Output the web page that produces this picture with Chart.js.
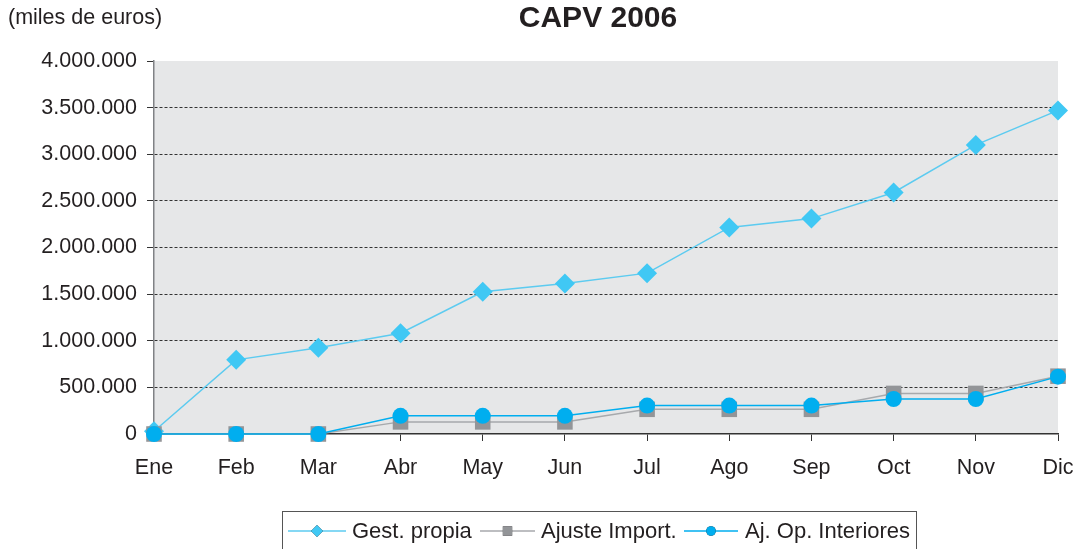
<!DOCTYPE html>
<html>
<head>
<meta charset="utf-8">
<script src="https://cdn.jsdelivr.net/npm/chart.js@4.4.1/dist/chart.umd.min.js"></script>
<style>
  html, body { margin: 0; padding: 0; background: #ffffff; }
  #wrap { width: 1078px; height: 549px; position: relative; }
</style>
</head>
<body>
<div id="wrap"><canvas id="chart" width="1078" height="549"></canvas></div>
<script>
// ----- Data (miles de euros) -----
const months = ['Ene', 'Feb', 'Mar', 'Abr', 'May', 'Jun', 'Jul', 'Ago', 'Sep', 'Oct', 'Nov', 'Dic'];
const gestPropia = [30000, 795000, 925000, 1080000, 1525000, 1615000, 1725000, 2215000, 2310000, 2590000, 3100000, 3470000];
const ajusteImport = [0, 0, 0, 130000, 130000, 130000, 265000, 265000, 265000, 435000, 435000, 620000];
const ajOpInteriores = [0, 0, 0, 195000, 195000, 195000, 305000, 305000, 305000, 375000, 375000, 615000];
const yTicks = [0, 500000, 1000000, 1500000, 2000000, 2500000, 3000000, 3500000, 4000000];

const FONT = "'Liberation Sans', Arial, sans-serif";
const TEXT = '#231f20';

function fmt(v) {
    return String(v).replace(/\B(?=(\d{3})+(?!\d))/g, '.');
}

// grey plot background
const plotBg = {
    id: 'plotBg',
    beforeDraw(chart) {
        const a = chart.chartArea, ctx = chart.ctx;
        ctx.save();
        ctx.fillStyle = '#e6e7e8';
        ctx.fillRect(a.left, a.top, a.right - a.left, a.bottom - a.top);
        ctx.restore();
    }
};

// title, unit note and boxed legend
const texts = {
    id: 'texts',
    afterDraw(chart) {
        const ctx = chart.ctx;
        ctx.save();
        ctx.fillStyle = TEXT;
        ctx.textBaseline = 'middle';
        ctx.font = 'bold 30px ' + FONT;
        ctx.textAlign = 'center';
        ctx.fillText('CAPV 2006', 598, 19);
        ctx.font = '21.5px ' + FONT;
        ctx.textAlign = 'left';
        ctx.fillText('(miles de euros)', 8, 18);

        // legend box
        ctx.strokeStyle = '#555';
        ctx.lineWidth = 1;
        ctx.strokeRect(282.5, 511.5, 634, 50);

        const items = [
            { ds: chart.data.datasets[0], x1: 288, x2: 346, text: 352 },
            { ds: chart.data.datasets[1], x1: 480, x2: 535, text: 541 },
            { ds: chart.data.datasets[2], x1: 684, x2: 738, text: 745 }
        ];
        const y = 531;
        items.forEach(function (it) {
            ctx.strokeStyle = it.ds.borderColor;
            ctx.lineWidth = 1.5;
            ctx.beginPath();
            ctx.moveTo(it.x1, y);
            ctx.lineTo(it.x2, y);
            ctx.stroke();
            const cx = (it.x1 + it.x2) / 2;
            Chart.helpers.drawPoint(ctx, {
                pointStyle: it.ds.pointStyle,
                radius: it.ds.pointRadius * 0.6,
                borderWidth: 0
            }, cx, y);
            ctx.fillStyle = it.ds.pointBackgroundColor;
            ctx.fill();
            ctx.fillStyle = TEXT;
            ctx.font = '22px ' + FONT;
            ctx.textAlign = 'left';
            ctx.fillText(it.ds.label, it.text, y + 1);
        });
        ctx.restore();
    }
};

new Chart(document.getElementById('chart'), {
    type: 'line',
    data: {
        labels: months,
        datasets: [
            {
                label: 'Gest. propia',
                data: gestPropia,
                borderColor: '#5ccbf0',
                borderWidth: 1.5,
                pointStyle: 'rectRot',
                pointRadius: 10,
                pointBackgroundColor: '#40c8f4',
                pointBorderWidth: 0,
                order: 3,
                clip: false
            },
            {
                label: 'Ajuste Import.',
                data: ajusteImport,
                borderColor: '#a7a9ac',
                borderWidth: 1.5,
                pointStyle: 'rect',
                pointRadius: 11,
                pointBackgroundColor: '#939598',
                pointBorderWidth: 0,
                order: 2,
                clip: false
            },
            {
                label: 'Aj. Op. Interiores',
                data: ajOpInteriores,
                borderColor: '#00aeef',
                borderWidth: 1.5,
                pointStyle: 'circle',
                pointRadius: 8,
                pointBackgroundColor: '#00aeef',
                pointBorderWidth: 0,
                order: 1,
                clip: false
            }
        ]
    },
    options: {
        responsive: false,
        animation: false,
        events: [],
        layout: { padding: { top: 61, right: 20, bottom: 60, left: 0 } },
        plugins: {
            legend: { display: false },
            title: { display: false },
            tooltip: { enabled: false }
        },
        scales: {
            x: {
                offset: false,
                grid: {
                    drawOnChartArea: false,
                    drawTicks: true,
                    tickLength: 7,
                    tickColor: '#333'
                },
                border: { color: '#333', width: 1.5 },
                ticks: {
                    color: TEXT,
                    font: { family: FONT, size: 21.5 },
                    padding: 14,
                    maxRotation: 0,
                    autoSkip: false
                },
                afterFit(scale) {
                    scale.height = 55;
                    scale.paddingRight = 0;
                    scale.paddingLeft = 0;
                }
            },
            y: {
                min: 0,
                max: 4000000,
                afterBuildTicks(scale) {
                    scale.ticks = yTicks.map(function (v) { return { value: v }; });
                },
                grid: {
                    color: function (c) {
                        const v = c.tick ? c.tick.value : 0;
                        return (v === 0 || v === 4000000) ? 'rgba(0,0,0,0)' : '#333';
                    },
                    lineWidth: 1,
                    tickLength: 7,
                    tickColor: '#333',
                    tickBorderDash: []
                },
                border: { color: '#808285', width: 1.5, dash: [3, 2] },
                ticks: {
                    color: TEXT,
                    font: { family: FONT, size: 21.5 },
                    padding: 10,
                    callback: function (v) { return fmt(v); }
                },
                afterFit(scale) {
                    scale.width = 154;
                    scale.paddingTop = 0;
                    scale.paddingBottom = 0;
                }
            }
        }
    },
    plugins: [plotBg, texts]
});
</script>
</body>
</html>
